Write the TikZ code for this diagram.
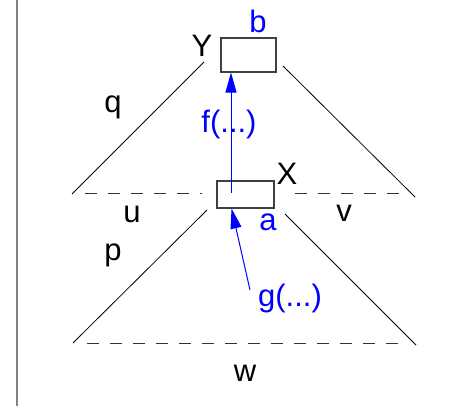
\documentclass[tikz,border=0pt]{standalone}
\usepackage{fontspec}
\setmainfont{Liberation Sans}
\usepackage{xcolor}
\usetikzlibrary{arrows.meta,positioning,calc}

\begin{document}
\begin{tikzpicture}[
  x=1pt, y=-1pt,
  box/.style={rectangle, draw=black!75, line width=1.1pt, inner sep=0pt},
  lbl/.style={anchor=base, inner sep=0pt, font=\fontsize{31}{36}\selectfont},
  blbl/.style={lbl, text=blue},
  side/.style={black, line width=0.8pt},
  cut/.style={black!80, line width=1pt, dash pattern=on 12pt off 11pt},
  arr/.style={-{Triangle[length=20pt, width=11pt]}, blue, line width=1pt}
]
\useasboundingbox (0,0) rectangle (450,406);
\draw[black!50, line width=2pt] (17,0) -- (17,406);

% the two boxes
\node[box, minimum width=55pt, minimum height=34pt] (boxY) at (248.5,55) {};
\node[box, minimum width=57pt, minimum height=27pt] (boxX) at (245.5,194.5) {};

% upper triangle
\draw[side] (204,62) -- (72,194);
\draw[side] (283,66) -- (415,197);
\draw[cut] (85,194) -- (202,194);
\draw[cut] (295,194) -- (405,194);

% lower triangle
\draw[side] (207,210) -- (73,343);
\draw[side] (285,214) -- (416,345);
\draw[cut] (87,343) -- (408,343);

% labels
\node[blbl] (lb) at (258,33) {b};
\node[lbl] (lY) at (202,57) {Y};
\node[lbl] (lq) at (113,113) {q};
\node[blbl] (lf) at (229,133) {f(...)};
\node[lbl] (lX) at (287,185) {X};
\node[blbl] (la) at (268,231) {a};
\node[lbl] (lu) at (132,223) {u};
\node[lbl] (lv) at (344,222) {v};
\node[lbl] (lp) at (113,261) {p};
\node[blbl] (lg) at (290,306) {g(...)};
\node[lbl] (lw) at (245,381) {w};

% blue arrows
\coordinate (fstart) at (231,193);
\coordinate (gstart) at (250,290);
\coordinate (gtip) at ($(boxX.south west)!0.26!(boxX.south east)$);
\draw[arr] (fstart) -- (fstart |- boxY.south);
\draw[arr] (gstart) -- (gtip);
\end{tikzpicture}
\end{document}
